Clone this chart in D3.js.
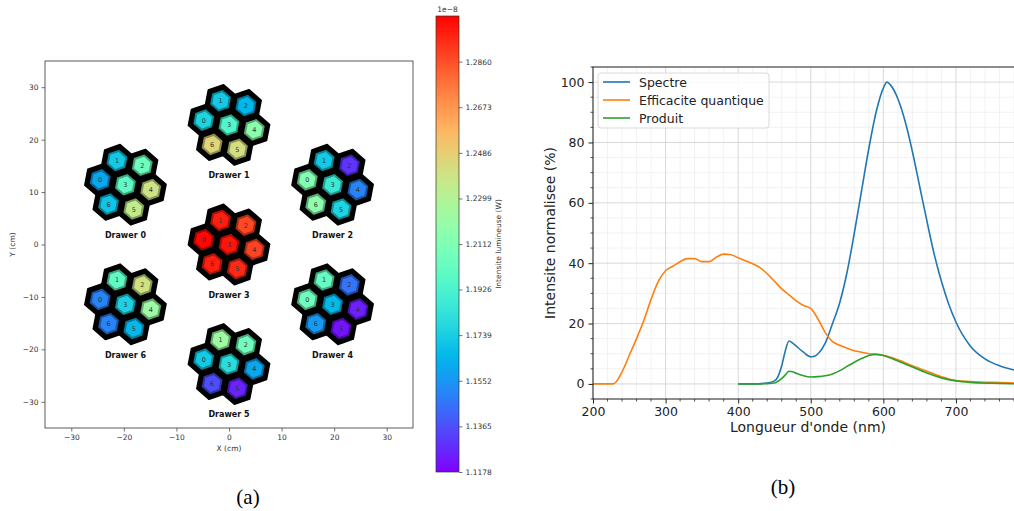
<!DOCTYPE html>
<html><head><meta charset="utf-8">
<script src="https://cdn.jsdelivr.net/npm/d3@7"></script>
<style>body{margin:0;background:#fff}svg{display:block}text{font-family:"DejaVu Sans",sans-serif}text.cap{font-family:"Liberation Serif","Times New Roman",serif}</style>
</head><body><svg id="c" width="1014" height="511"></svg>
<script>
// ---------------- DATA ----------------
const drawerNames = ["Drawer 0","Drawer 1","Drawer 2","Drawer 3","Drawer 4","Drawer 5","Drawer 6"];
const drawerX = [-19.7, 0, 19.7, 0, 19.7, 0, -19.7];      // cm
const drawerY = [11.4, 22.8, 11.4, 0, -11.4, -22.8, -11.4]; // cm
const cellIds = [0,1,2,3,4,5,6];
// luminous intensity per cell (x 1e-8 W), cells 0..6
const valsDrawer0 = [1.160, 1.172, 1.205, 1.200, 1.240, 1.235, 1.170];
const valsDrawer1 = [1.176, 1.172, 1.165, 1.195, 1.215, 1.242, 1.246];
const valsDrawer2 = [1.212, 1.172, 1.130, 1.186, 1.150, 1.176, 1.216];
const valsDrawer3 = [1.303, 1.298, 1.288, 1.300, 1.289, 1.295, 1.297];
const valsDrawer4 = [1.206, 1.202, 1.146, 1.166, 1.125, 1.122, 1.156];
const valsDrawer5 = [1.172, 1.222, 1.206, 1.180, 1.160, 1.126, 1.136];
const valsDrawer6 = [1.150, 1.200, 1.240, 1.175, 1.222, 1.166, 1.150];
const cellValues = [valsDrawer0,valsDrawer1,valsDrawer2,valsDrawer3,valsDrawer4,valsDrawer5,valsDrawer6];
const cbMin = 1.1178, cbMax = 1.3047;
const cbTicks = [1.1178,1.1365,1.1552,1.1739,1.1926,1.2112,1.2299,1.2486,1.2673,1.2860];
const mapTicks = [-30,-20,-10,0,10,20,30];

const wlSpectre = [400,420,440,450,455,460,465,470,475,480,490,500,505,510,520,530,540,550,560,570,580,590,600,605,610,620,630,640,650,660,670,680,690,700,720,740,760,780];
const valSpectre = [0,0,0.3,1,2.5,6,11,14.2,13.5,12.5,10.5,9,9.2,10,13.5,20,27,37,50,64,78,90,98,100,99,94.5,87,77,65.5,54,43,34,26.5,20.5,12.5,8.3,6,4.6];
const wlEff = [200,210,220,228,240,250,260,270,280,290,300,310,320,330,340,350,360,370,380,390,400,410,420,430,440,450,460,470,480,490,500,510,520,530,540,550,560,570,580,590,600,620,640,660,680,700,720,750,780];
const valEff = [0,0,0,0,4,9.5,15,21,28,34,37.5,39,40.5,41.5,41.5,40.5,40.5,42,43,42.8,41.8,40.8,39.8,38.5,36.5,34,31.5,29.5,27.5,26,25,21.5,17,14,12.8,11.8,11,10.5,10,9.8,9.5,8,6,4.2,2.4,1.1,0.8,0.5,0.3];
const wlProd = [400,420,440,450,460,465,470,475,480,490,500,510,520,530,540,550,560,570,580,590,600,610,620,640,660,680,700,720,750,780];
const valProd = [0,0,0.1,0.3,1.8,3,4.2,4,3.5,2.7,2.3,2.4,2.7,3.3,4.4,5.8,7.2,8.4,9.4,9.8,9.4,8.6,7.6,5.6,3.6,2,1,0.5,0.2,0.05];
const specTicksX = [200,300,400,500,600,700];
const specTicksY = [0,20,40,60,80,100];
const seriesNames = ["Spectre","Efficacite quantique","Produit"];
const seriesColors = ["#1f77b4","#ff7f0e","#2ca02c"];

// ---------------- DRAW ----------------
const svg = d3.select("#c");

function rainbow(t){
  t = Math.max(0, Math.min(1, t));
  const r = Math.min(1, Math.abs(2*t-0.5)), g = Math.sin(Math.PI*t), b = Math.cos(Math.PI*t/2);
  return d3.rgb(r*255, g*255, b*255).formatHex();
}
const cnorm = d3.scaleLinear().domain([cbMin, cbMax]).range([0,1]);

// ---- Panel (a) ----
const L = {x0:45, x1:413, y0:61, y1:428};
const sx = d3.scaleLinear().domain([-35,35]).range([L.x0, L.x1]);
const sy = d3.scaleLinear().domain([-35,35]).range([L.y1, L.y0]);
const ga = svg.append("g");
ga.append("rect").attr("x",L.x0).attr("y",L.y0).attr("width",L.x1-L.x0).attr("height",L.y1-L.y0)
  .attr("fill","none").attr("stroke","#333").attr("stroke-width",0.8);
const axA = ga.append("g").attr("transform",`translate(0,${L.y1})`)
  .call(d3.axisBottom(sx).tickValues(mapTicks).tickSize(3.5).tickPadding(3).tickFormat(d=>d<0?"\u2212"+(-d):d));
const ayA = ga.append("g").attr("transform",`translate(${L.x0},0)`)
  .call(d3.axisLeft(sy).tickValues(mapTicks).tickSize(3.5).tickPadding(3).tickFormat(d=>d<0?"\u2212"+(-d):d));
[axA, ayA].forEach(a=>{ a.select(".domain").remove(); a.selectAll("text").attr("font-size",7.5).attr("fill","#333").attr("font-family","DejaVu Sans"); a.selectAll("line").attr("stroke","#333").attr("stroke-width",0.7);});
ga.append("text").attr("x",(L.x0+L.x1)/2).attr("y",451).attr("text-anchor","middle").attr("font-size",7.5).attr("fill","#333").text("X (cm)");
ga.append("text").attr("transform",`translate(15,${(L.y0+L.y1)/2}) rotate(-90)`).attr("text-anchor","middle").attr("font-size",7.5).attr("fill","#333").text("Y (cm)");

const pitch = 4.9, rot = -10.9*Math.PI/180;
const cellAng = [180,120,60,null,0,-60,-120];
function hexPts(cx, cy, R){
  const pts=[];
  for(let k=0;k<6;k++){
    const a = Math.PI/2 + k*Math.PI/3 + rot;
    pts.push([sx(cx + R*Math.cos(a)), sy(cy + R*Math.sin(a))]);
  }
  return pts.map(p=>p.join(",")).join(" ");
}
drawerNames.forEach((name, di)=>{
  const g = ga.append("g");
  const cells = cellIds.map(ci=>{
    let ox=0, oy=0;
    if(cellAng[ci]!==null){ const a = cellAng[ci]*Math.PI/180 + rot; ox = pitch*Math.cos(a); oy = pitch*Math.sin(a); }
    return {id:ci, x:drawerX[di]+ox, y:drawerY[di]+oy, v:cellValues[di][ci]};
  });
  g.selectAll("polygon.o").data(cells).join("polygon").attr("points",d=>hexPts(d.x,d.y,pitch/Math.sqrt(3)+0.25))
    .attr("fill","#000").attr("stroke","#000").attr("stroke-width",1.6).attr("stroke-linejoin","round");
  g.selectAll("polygon.r").data(cells).join("polygon").attr("points",d=>hexPts(d.x,d.y,2.1))
    .attr("fill",d=>d3.color(rainbow(cnorm(d.v))).darker(1.2));
  g.selectAll("polygon.i").data(cells).join("polygon").attr("points",d=>hexPts(d.x,d.y,1.65))
    .attr("fill",d=>rainbow(cnorm(d.v)));
  g.selectAll("text").data(cells).join("text").attr("x",d=>sx(d.x)).attr("y",d=>sy(d.y)+2.5)
    .attr("text-anchor","middle").attr("font-size",6.5).attr("fill","#333").text(d=>d.id);
  ga.append("text").attr("x",sx(drawerX[di])).attr("y",sy(drawerY[di]-9.6)+3)
    .attr("text-anchor","middle").attr("font-size",8).attr("font-weight","bold").attr("fill","#111").text(name);
});

// colorbar
const CB = {x:436, w:23, y0:16, y1:472};
const cy = d3.scaleLinear().domain([cbMin, cbMax]).range([CB.y1, CB.y0]);
const grad = svg.append("defs").append("linearGradient").attr("id","rb").attr("x1",0).attr("y1",1).attr("x2",0).attr("y2",0);
d3.range(0,1.0001,0.02).forEach(t=>grad.append("stop").attr("offset",t).attr("stop-color",rainbow(t)));
svg.append("rect").attr("x",CB.x).attr("y",CB.y0).attr("width",CB.w).attr("height",CB.y1-CB.y0)
  .attr("fill","url(#rb)").attr("stroke","#333").attr("stroke-width",0.7);
const cba = svg.append("g").attr("transform",`translate(${CB.x+CB.w},0)`)
  .call(d3.axisRight(cy).tickValues(cbTicks).tickSize(3.5).tickPadding(3).tickFormat(d3.format(".4f")));
cba.select(".domain").remove();
cba.selectAll("text").attr("font-size",7.5).attr("fill","#333").attr("font-family","DejaVu Sans");
cba.selectAll("line").attr("stroke","#333").attr("stroke-width",0.7);
svg.append("text").attr("x",CB.x+CB.w/2).attr("y",12).attr("text-anchor","middle").attr("font-size",7.5).attr("fill","#333").text("1e\u22128");
svg.append("text").attr("transform",`translate(501,${(CB.y0+CB.y1)/2}) rotate(-90)`).attr("text-anchor","middle")
  .attr("font-size",7.5).attr("fill","#333").text("Intensite lumineuse (W)");

// ---- Panel (b) ----
const R = {x0:593, x1:1014, y0:67, y1:399};
const bx = d3.scaleLinear().domain([200,780]).range([R.x0, R.x1]);
const by = d3.scaleLinear().domain([-5,105]).range([R.y1, R.y0]);
const gb = svg.append("g");
gb.append("clipPath").attr("id","clipb").append("rect").attr("x",R.x0).attr("y",R.y0).attr("width",R.x1-R.x0).attr("height",R.y1-R.y0);
const grid = gb.append("g");
d3.range(220,781,20).filter(v=>v%100!==0).forEach(v=>grid.append("line").attr("x1",bx(v)).attr("x2",bx(v)).attr("y1",R.y0).attr("y2",R.y1).attr("stroke","#ececec").attr("stroke-width",0.7));
d3.range(-5,106,5).filter(v=>v%20!==0).forEach(v=>grid.append("line").attr("y1",by(v)).attr("y2",by(v)).attr("x1",R.x0).attr("x2",R.x1).attr("stroke","#ececec").attr("stroke-width",0.7));
specTicksX.forEach(v=>grid.append("line").attr("x1",bx(v)).attr("x2",bx(v)).attr("y1",R.y0).attr("y2",R.y1).attr("stroke","#d4d4d4").attr("stroke-width",0.9));
specTicksY.forEach(v=>grid.append("line").attr("y1",by(v)).attr("y2",by(v)).attr("x1",R.x0).attr("x2",R.x1).attr("stroke","#d4d4d4").attr("stroke-width",0.9));

const line = d3.line().x(d=>bx(d[0])).y(d=>by(d[1])).curve(d3.curveMonotoneX);
const series = [
  d3.zip(wlSpectre, valSpectre),
  d3.zip(wlEff, valEff),
  d3.zip(wlProd, valProd)
];
const lines = gb.append("g").attr("clip-path","url(#clipb)");
series.forEach((s,i)=>lines.append("path").attr("d",line(s)).attr("fill","none").attr("stroke",seriesColors[i]).attr("stroke-width",1.6));

gb.append("rect").attr("x",R.x0).attr("y",R.y0).attr("width",R.x1-R.x0+5).attr("height",R.y1-R.y0)
  .attr("fill","none").attr("stroke","#222").attr("stroke-width",1);
const axB = gb.append("g").attr("transform",`translate(0,${R.y1})`)
  .call(d3.axisBottom(bx).tickValues(specTicksX).tickSize(4.5).tickPadding(4));
const ayB = gb.append("g").attr("transform",`translate(${R.x0},0)`)
  .call(d3.axisLeft(by).tickValues(specTicksY).tickSize(4.5).tickPadding(4));
[axB, ayB].forEach(a=>{ a.select(".domain").remove(); a.selectAll("text").attr("font-size",12.5).attr("fill","#222").attr("font-family","DejaVu Sans"); a.selectAll("line").attr("stroke","#222");});
// minor ticks
const mt = gb.append("g").attr("stroke","#222").attr("stroke-width",0.8);
d3.range(220,781,20).filter(v=>v%100!==0).forEach(v=>mt.append("line").attr("x1",bx(v)).attr("x2",bx(v)).attr("y1",R.y1).attr("y2",R.y1+2.5));
d3.range(-5,106,5).filter(v=>v%20!==0).forEach(v=>mt.append("line").attr("y1",by(v)).attr("y2",by(v)).attr("x1",R.x0).attr("x2",R.x0-2.5));

gb.append("text").attr("x",808).attr("y",432).attr("text-anchor","middle").attr("font-size",14).attr("fill","#222").text("Longueur d'onde (nm)");
gb.append("text").attr("transform",`translate(555,${(R.y0+R.y1)/2}) rotate(-90)`).attr("text-anchor","middle").attr("font-size",14).attr("fill","#222").text("Intensite normalisee (%)");

// legend
const lg = gb.append("g");
lg.append("rect").attr("x",598).attr("y",73).attr("width",171).attr("height",55).attr("rx",3)
  .attr("fill","#fff").attr("fill-opacity",0.85).attr("stroke","#d0d0d0").attr("stroke-width",0.8);
seriesNames.forEach((n,i)=>{
  const y = 82 + i*18;
  lg.append("line").attr("x1",603).attr("x2",630).attr("y1",y).attr("y2",y).attr("stroke",seriesColors[i]).attr("stroke-width",1.6);
  lg.append("text").attr("x",639).attr("y",y+4.5).attr("font-size",12.5).attr("fill","#222").text(n);
});

// captions
svg.append("text").attr("class","cap").attr("x",248).attr("y",504).attr("text-anchor","middle").attr("font-size",21).attr("fill","#000").text("(a)");
svg.append("text").attr("class","cap").attr("x",783).attr("y",494).attr("text-anchor","middle").attr("font-size",21).attr("fill","#000").text("(b)");
</script></body></html>
